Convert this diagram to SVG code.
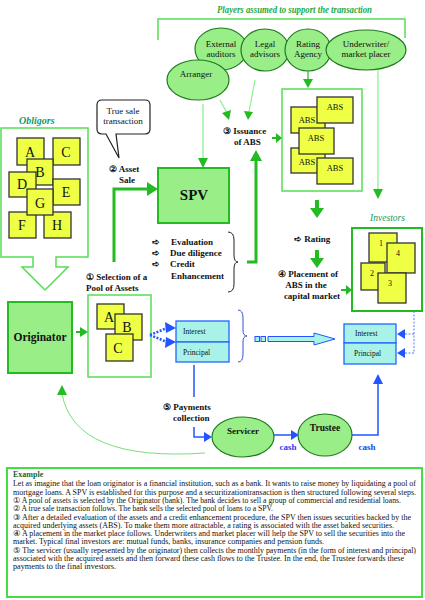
<svg xmlns="http://www.w3.org/2000/svg" width="425" height="600" viewBox="0 0 425 600">
<style>
.s{font-family:"Liberation Serif","Times New Roman",serif;}
.b{font-weight:bold;}
.lbl{font-family:"Liberation Serif",serif;font-weight:bold;font-size:9px;fill:#111;}
.ell{fill:#99ee88;stroke:#1f7a1f;stroke-width:1.2;}
.et{font-family:"Liberation Serif",serif;font-size:9px;fill:#111;text-anchor:middle;}
.card{fill:#eeff44;stroke:#333;stroke-width:1.3;}
.ct{font-family:"Liberation Serif",serif;font-size:14px;fill:#111;text-anchor:middle;}
.at{font-family:"Liberation Serif",serif;font-size:8.5px;fill:#111;text-anchor:middle;}
.nt{font-family:"Liberation Serif",serif;font-size:8px;fill:#111;text-anchor:middle;}
.outl{fill:none;stroke:#55dd55;stroke-width:1.5;}
.gthick{fill:none;stroke:#22bb22;stroke-width:3;}
.gthin{fill:none;stroke:#88ee88;stroke-width:1.2;}
.gh{fill:#22bb22;}
.bl{fill:none;stroke:#2255ff;stroke-width:1.5;}
.bh{fill:#2255ff;}
.dot{fill:none;stroke:#2255ff;stroke-width:2.5;stroke-dasharray:2,1.5;}
.dotr{fill:none;stroke:#5577ff;stroke-width:1;stroke-dasharray:2,1.5;}
.cy{fill:#a8f2e8;stroke:#2266ff;stroke-width:1.3;}
.ip{font-family:"Liberation Serif",serif;font-size:7.5px;fill:#111;}
.ex{font-family:"Liberation Serif",serif;font-size:7.6px;fill:#111;}
.cash{font-family:"Liberation Serif",serif;font-weight:bold;font-size:9px;fill:#2244ee;text-anchor:middle;}
</style>

<!-- players bracket and title -->
<g id="players">
<text x="217" y="13" class="s b" font-style="italic" font-size="9.5" fill="#22aa44" textLength="155" lengthAdjust="spacingAndGlyphs">Players assumed to support the transaction</text>
<polyline class="outl" points="158,40 158,19 405,19 405,38"/>
</g>
<g id="external-auditors"><ellipse class="ell" cx="221" cy="49" rx="26" ry="21"/><text class="et" x="221" y="47">External</text><text class="et" x="221" y="57">auditors</text></g>
<g id="legal-advisors"><ellipse class="ell" cx="265" cy="50" rx="24" ry="21"/><text class="et" x="265" y="47">Legal</text><text class="et" x="265" y="57">advisors</text></g>
<g id="rating-agency"><ellipse class="ell" cx="308" cy="50" rx="23" ry="21"/><text class="et" x="308" y="47">Rating</text><text class="et" x="308" y="57">Agency</text></g>
<g id="underwriter"><ellipse class="ell" cx="366" cy="50" rx="40" ry="20"/><text class="et" x="366" y="47">Underwriter/</text><text class="et" x="366" y="57">market placer</text></g>
<g id="arranger"><ellipse class="ell" cx="198" cy="80" rx="31" ry="20"/><text class="et" x="196" y="77">Arranger</text></g>

<!-- speech bubble -->
<g id="true-sale">
<path d="M102,100 H145 Q150,100 150,105 V129 Q150,134 145,134 H116 L119,158 L106,134 H102 Q97,134 97,129 V105 Q97,100 102,100 Z" fill="#fff" stroke="#222" stroke-width="1.2"/>
<text class="et" x="123" y="114">True sale</text>
<text class="et" x="123" y="124">transaction</text>
</g>

<!-- obligors -->
<g id="obligors">
<text x="19" y="124" class="s b" font-style="italic" font-size="10" fill="#119966">Obligors</text>
<path class="outl" d="M1,128 H88 V257 H56 V267 H68 L45,290 L22,267 H33 V257 H1 Z"/>
<rect class="card" x="17" y="138" width="27" height="27"/><text class="ct" x="30" y="157">A</text>
<rect class="card" x="53" y="138" width="27" height="27"/><text class="ct" x="66" y="157">C</text>
<rect class="card" x="27" y="159" width="26" height="26"/><text class="ct" x="40" y="177">B</text>
<rect class="card" x="9" y="172" width="27" height="25"/><text class="ct" x="22" y="189">D</text>
<rect class="card" x="53" y="179" width="27" height="26"/><text class="ct" x="66" y="197">E</text>
<rect class="card" x="9" y="212" width="27" height="26"/><text class="ct" x="22" y="230">F</text>
<rect class="card" x="44" y="212" width="27" height="26"/><text class="ct" x="57" y="230">H</text>
<rect class="card" x="27" y="189" width="26" height="26"/><text class="ct" x="40" y="208">G</text>
</g>

<!-- SPV -->
<g id="spv">
<rect x="158" y="168" width="71" height="55" fill="#99ee88" stroke="#22bb22" stroke-width="2"/>
<text x="194" y="200" class="s b" font-size="15" text-anchor="middle" fill="#111">SPV</text>
</g>

<!-- ABS box -->
<g id="abs">
<rect x="282" y="89" width="80" height="102" fill="#fff" stroke="#55dd55" stroke-width="1.5"/>
<rect class="card" x="291" y="107" width="34" height="26"/><text class="at" x="307" y="123">ABS</text>
<rect class="card" x="317" y="97" width="36" height="26"/><text class="at" x="335" y="110">ABS</text>
<rect class="card" x="291" y="148" width="34" height="25"/><text class="at" x="307" y="165">ABS</text>
<rect class="card" x="299" y="128" width="35" height="26"/><text class="at" x="316" y="141">ABS</text>
<rect class="card" x="317" y="158" width="36" height="26"/><text class="at" x="335" y="171">ABS</text>
</g>

<!-- Investors -->
<g id="investors">
<text x="370" y="221" class="s" font-style="italic" font-size="9.5" fill="#119966" textLength="35" lengthAdjust="spacingAndGlyphs">Investors</text>
<rect x="352" y="228" width="70" height="83" fill="#fff" stroke="#22bb22" stroke-width="2"/>
<rect class="card" x="369" y="233" width="28" height="29"/><text class="nt" x="381" y="246">1</text>
<rect class="card" x="387" y="243" width="28" height="30"/><text class="nt" x="398" y="256">4</text>
<rect class="card" x="361" y="263" width="24" height="27"/><text class="nt" x="372" y="276">2</text>
<rect class="card" x="378" y="273" width="28" height="30"/><text class="nt" x="390" y="286">3</text>
</g>

<!-- Originator -->
<g id="originator">
<rect x="8" y="302" width="64" height="71" fill="#99ee88" stroke="#22bb22" stroke-width="2"/>
<text x="40" y="341" class="s b" font-size="11.5" text-anchor="middle" fill="#111">Originator</text>
</g>

<!-- Pool -->
<g id="pool">
<rect x="88" y="295" width="63" height="82" fill="#fff" stroke="#55dd55" stroke-width="1.5"/>
<rect class="card" x="97" y="304" width="27" height="25"/><text class="ct" x="109" y="322">A</text>
<rect class="card" x="115" y="314" width="27" height="26"/><text class="ct" x="127" y="332">B</text>
<rect class="card" x="106" y="334" width="27" height="27"/><text class="ct" x="118" y="353">C</text>
</g>

<!-- Interest/Principal boxes -->
<g id="ip-left">
<rect class="cy" x="176" y="321" width="53" height="21"/>
<rect class="cy" x="176" y="342" width="53" height="20"/>
<text class="ip" x="183" y="334">Interest</text>
<text class="ip" x="183" y="355">Principal</text>
</g>
<g id="ip-right">
<rect class="cy" x="344" y="324" width="52" height="19"/>
<rect class="cy" x="344" y="343" width="52" height="21"/>
<text class="ip" x="355" y="336">Interest</text>
<text class="ip" x="354" y="356">Principal</text>
</g>

<!-- Servicer / Trustee -->
<g id="servicer"><ellipse class="ell" cx="243" cy="437" rx="31" ry="20"/><text x="243" y="434" class="s b" font-size="9" text-anchor="middle" fill="#111">Servicer</text></g>
<g id="trustee"><ellipse class="ell" cx="325" cy="435" rx="27" ry="21"/><text x="325" y="431" class="s b" font-size="9.5" text-anchor="middle" fill="#111">Trustee</text></g>

<!-- labels -->
<g id="labels">
<text class="lbl" x="124" y="172" text-anchor="middle">② Asset</text>
<text class="lbl" x="127" y="183" text-anchor="middle">Sale</text>
<text class="lbl" x="223" y="134">③ Issuance</text>
<text class="lbl" x="234" y="145">of  ABS</text>
<text class="lbl" x="86" y="280">① Selection of a</text>
<text class="lbl" x="86" y="291">Pool of Assets</text>
<text class="lbl" x="152" y="245">➪</text><text class="lbl" x="171" y="245">Evaluation</text>
<text class="lbl" x="152" y="256">➪</text><text class="lbl" x="170" y="256">Due diligence</text>
<text class="lbl" x="152" y="267">➪</text><text class="lbl" x="170" y="267">Credit</text>
<text class="lbl" x="171" y="279">Enhancement</text>
<text class="lbl" x="294" y="242">➪ Rating</text>
<text class="lbl" x="308" y="277" text-anchor="middle">④ Placement of</text>
<text class="lbl" x="306" y="288" text-anchor="middle">ABS  in the</text>
<text class="lbl" x="312" y="299" text-anchor="middle">capital  market</text>
<text class="lbl" x="163" y="410">⑤ Payments</text>
<text class="lbl" x="173" y="421">collection</text>
<text class="cash" x="288" y="450">cash</text>
<text class="cash" x="367" y="450">cash</text>
</g>

<!-- connectors -->
<g id="connectors">
<!-- arranger to SPV -->
<line class="gthin" x1="203" y1="104" x2="203" y2="160"/>
<polygon class="gh" points="198,158 203,168 208,158"/>
<!-- arranger / legal to issuance -->
<line class="gthin" x1="220" y1="100" x2="227" y2="113"/>
<polygon class="gh" points="222,113 229,120 231,110"/>
<line class="gthin" x1="255" y1="80" x2="249" y2="112"/>
<polygon class="gh" points="244,111 248,120 253,112"/>
<!-- rating agency to ABS -->
<line x1="308" y1="71" x2="308" y2="80" stroke="#22bb22" stroke-width="1.2"/>
<polygon class="gh" points="303,79 308,88 313,79"/>
<!-- underwriter to investors -->
<line class="gthin" x1="378" y1="70" x2="378" y2="190"/>
<polygon class="gh" points="373,189 378,199 383,189"/>
<!-- issuance to ABS box -->
<line x1="272" y1="138" x2="277" y2="138" stroke="#22bb22" stroke-width="2"/>
<polygon class="gh" points="276,133 282,138 276,143"/>
<!-- asset sale -->
<path class="gthick" d="M114,262 V189 H148"/>
<polygon class="gh" points="147,182 158,189 147,196"/>
<!-- evaluation to issuance -->
<path class="gthick" d="M247,262 H256 V158"/>
<polygon class="gh" points="250,161 256,150 262,161"/>
<!-- brackets -->
<path d="M228,232 Q234,232 234,240 V255 Q234,262 238,262 Q234,262 234,269 V284 Q234,292 228,292" fill="none" stroke="#222" stroke-width="1"/>
<path d="M238,310 Q243,310 243,318 V330 Q243,336 247,336 Q243,336 243,342 V354 Q243,362 238,362" fill="none" stroke="#3355cc" stroke-width="1"/>
<!-- block green arrows -->
<path class="gh" d="M315,200 H319 V208 H324 L317,218 L310,208 H315 Z"/>
<path class="gh" d="M315,250 H319 V258 H324 L317,268 L310,258 H315 Z"/>
<!-- placement to investors -->
<line x1="341" y1="290" x2="347" y2="290" stroke="#22bb22" stroke-width="2"/>
<polygon class="gh" points="346,285 352,290 346,295"/>
<!-- originator to pool -->
<line x1="76" y1="332" x2="81" y2="332" stroke="#22bb22" stroke-width="2"/>
<polygon class="gh" points="80,327 88,332 80,337"/>
<!-- pool to interest/principal dotted -->
<path class="dot" d="M150,335 L167,328 M150,335 L167,342"/>
<polygon class="bh" points="165,322 176,328 166,333"/>
<polygon class="bh" points="166,337 176,342 165,348"/>
<!-- middle hollow arrow -->
<rect x="255" y="336.5" width="4.5" height="5" fill="#a8f2e8" stroke="#2255ff" stroke-width="1"/>
<rect x="261" y="336.5" width="4.5" height="5" fill="#a8f2e8" stroke="#2255ff" stroke-width="1"/>
<path d="M268,336.5 H314 V333 L335,339 L314,345 V341.5 H268 Z" fill="#a8f2e8" stroke="#2255ff" stroke-width="1"/>
<!-- investors to right box dotted -->
<path class="dotr" d="M414,311 V353 M414,334 H404 M414,353 H404"/>
<polygon class="bh" points="405,329 397,334 405,339"/>
<polygon class="bh" points="405,348 397,353 405,358"/>
<!-- payments collection -->
<path class="bl" d="M194,365 V397 M194,427 V437 H205"/>
<polygon class="bh" points="204,432 212,437 204,442"/>
<!-- servicer to trustee -->
<line class="bl" x1="274" y1="435" x2="292" y2="435"/>
<polygon class="bh" points="291,430 299,435 291,440"/>
<!-- trustee to investors -->
<path class="bl" d="M352,435 H378 V383"/>
<polygon class="bh" points="373,384 378,374 383,384"/>
<!-- back to originator -->
<path d="M205,453 Q75,462 62,394" fill="none" stroke="#77e077" stroke-width="1"/>
<polygon class="gh" points="57,395 62,385 67,395"/>
</g>

<!-- Example box -->
<g id="example">
<rect x="7" y="468" width="415" height="129" fill="#fff" stroke="#44dd44" stroke-width="2"/>
<text x="13" y="477" class="s b" font-size="8" fill="#116633">Example</text>
<text class="ex" x="13" y="486" textLength="403" lengthAdjust="spacingAndGlyphs">Let as imagine that the loan originator is a financial institution, such as a bank. It wants to raise money by liquidating a pool of</text>
<text class="ex" x="13" y="494.5" textLength="403" lengthAdjust="spacingAndGlyphs">mortgage loans. A SPV is established for this purpose and a securitizationtransaction is then structured following several steps.</text>
<text class="ex" x="13" y="503" textLength="388" lengthAdjust="spacingAndGlyphs">① A pool of assets is selected by the Originator (bank). The bank decides to sell a group of commercial and residential loans.</text>
<text class="ex" x="13" y="511" textLength="260" lengthAdjust="spacingAndGlyphs">② A true sale transaction follows. The bank sells the selected pool of loans to a SPV.</text>
<text class="ex" x="13" y="519.5" textLength="398" lengthAdjust="spacingAndGlyphs">③ After a detailed  evaluation of the assets and a credit enhancement procedure, the SPV then issues securities backed by the</text>
<text class="ex" x="13" y="527.5" textLength="381" lengthAdjust="spacingAndGlyphs">acquired underlying assets (ABS). To make them more attractable, a rating is associated with the asset baked securities.</text>
<text class="ex" x="13" y="536" textLength="392" lengthAdjust="spacingAndGlyphs">④ A placement in the market place follows. Underwriters and market placer will help the SPV to sell the securities into the</text>
<text class="ex" x="13" y="544" textLength="311" lengthAdjust="spacingAndGlyphs">market. Typical final investors are: mutual funds, banks, insurance companies and pension funds.</text>
<text class="ex" x="13" y="552.5" textLength="403" lengthAdjust="spacingAndGlyphs">⑤ The servicer (usually repesented by the originator) then collects  the monthly payments (in the form of interest and principal)</text>
<text class="ex" x="13" y="560.5" textLength="391" lengthAdjust="spacingAndGlyphs">associated with the acquired assets and then forward these cash flows to the Trustee.  In the end, the Trustee forwards these</text>
<text class="ex" x="13" y="569" textLength="103" lengthAdjust="spacingAndGlyphs">payments to the final investors.</text>
</g>
</svg>
